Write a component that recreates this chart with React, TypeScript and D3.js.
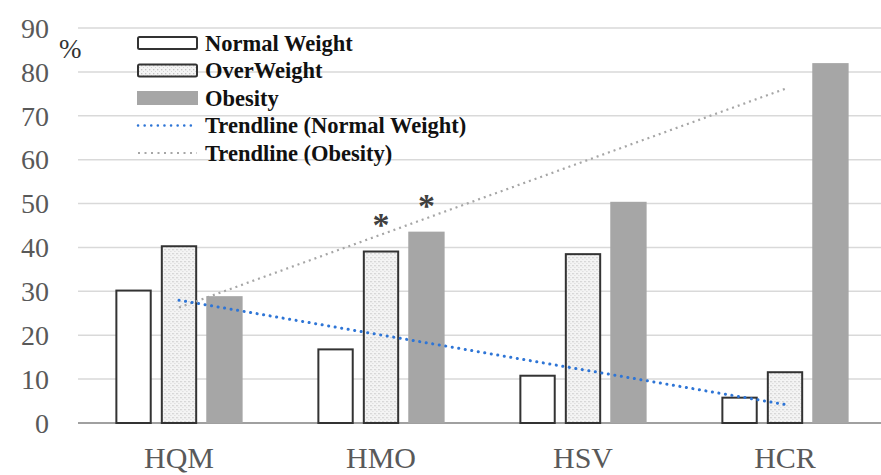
import React from 'react'
import * as d3 from 'd3'

// categories and series (%)
const categories = ['HQM', 'HMO', 'HSV', 'HCR']
const normalWeight = [30.4, 17, 11, 6]
const overWeight = [40.5, 39.3, 38.7, 11.8]
const obesity = [28.9, 43.6, 50.4, 82]
const yTickValues = [0, 10, 20, 30, 40, 50, 60, 70, 80, 90]
// significance marks: [category, series]
const starMarks = [['HMO', 'overWeight'], ['HMO', 'obesity']]

const seriesKeys = ['normalWeight', 'overWeight', 'obesity']
const seriesValues: Record<string, number[]> = { normalWeight, overWeight, obesity }

const W = 881, H = 475
const serif = '"Liberation Serif", "DejaVu Serif", serif'

// least squares line over the category index
const trend = (vals: number[]) => {
    const xs = vals.map((_, i) => i)
    const mx = d3.mean(xs) ?? 0
    const my = d3.mean(vals) ?? 0
    const num = d3.sum(xs, (x, i) => (x - mx) * (vals[i] - my))
    const den = d3.sum(xs, x => (x - mx) * (x - mx))
    const slope = num / den
    return (x: number) => my + slope * (x - mx)
}

const App = () => {
    const x = d3.scaleBand().domain(categories).range([78, 886]).paddingInner(0.37).paddingOuter(0.185)
    const xs = d3.scaleBand().domain(seriesKeys).range([0, x.bandwidth()]).paddingInner(0.2)
    const y = d3.scaleLinear().domain([0, 90]).range([423, 28])

    const center = (c: string) => (x(c) ?? 0) + x.bandwidth() / 2
    const line = d3.line<[number, number]>().x(d => d[0]).y(d => d[1])

    const trendPath = (vals: number[]) => {
        const f = trend(vals)
        const last = categories.length - 1
        return line([[center(categories[0]), y(f(0))], [center(categories[last]), y(f(last))]]) ?? ''
    }

    const barStyle = (k: string) => {
        if (k === 'normalWeight') return { fill: '#ffffff', stroke: '#333333', strokeWidth: 2 }
        if (k === 'overWeight') return { fill: 'url(#dots)', stroke: '#333333', strokeWidth: 2 }
        return { fill: '#a6a6a6', stroke: 'none', strokeWidth: 0 }
    }

    const legend = [
        { label: 'Normal Weight', kind: 'normalWeight' },
        { label: 'OverWeight', kind: 'overWeight' },
        { label: 'Obesity', kind: 'obesity' },
        { label: 'Trendline (Normal Weight)', kind: 'trendNormal' },
        { label: 'Trendline (Obesity)', kind: 'trendObesity' },
    ]

    return (
        <svg width={W} height={H} style={{ position: 'absolute', left: 0, top: 0, background: '#fff' }}>
            <defs>
                <pattern id="dots" width="4" height="4" patternUnits="userSpaceOnUse">
                    <rect width="4" height="4" fill="#f4f4f4" />
                    <rect x="1" y="1" width="1.3" height="1.3" fill="#c4c4c4" />
                    <rect x="3" y="3" width="1.3" height="1.3" fill="#d4d4d4" />
                </pattern>
            </defs>

            {/* grid */}
            {yTickValues.map(t => (
                <g key={t}>
                    <line x1={78} x2={W} y1={y(t)} y2={y(t)}
                        stroke={t === 0 ? '#a0a0a0' : '#d9d9d9'} strokeWidth={t === 0 ? 2 : 1.5} />
                    <text x={49} y={y(t)} dy="0.35em" textAnchor="end" fontFamily={serif}
                        fontSize={28} fill="#595959">{t}</text>
                </g>
            ))}
            <text x={59} y={58} fontFamily={serif} fontSize={27} fill="#333">%</text>

            {/* bars */}
            {categories.map((c, ci) => (
                <g key={c} transform={`translate(${x(c)},0)`}>
                    {seriesKeys.map(k => {
                        const v = seriesValues[k][ci]
                        const s = barStyle(k)
                        const inset = s.strokeWidth / 2
                        return <rect key={k} x={(xs(k) ?? 0) + inset} y={y(v) + inset}
                            width={xs.bandwidth() - 2 * inset} height={y(0) - y(v) - inset}
                            fill={s.fill} stroke={s.stroke} strokeWidth={s.strokeWidth} />
                    })}
                </g>
            ))}

            {/* trendlines */}
            <path d={trendPath(obesity)} stroke="#a6a6a6" strokeWidth={2.2} strokeDasharray="2 4" fill="none" />
            <path d={trendPath(normalWeight)} stroke="#2e75d6" strokeWidth={3} strokeDasharray="0.1 6.5"
                strokeLinecap="round" fill="none" />

            {/* significance */}
            {starMarks.map(([c, k]) => {
                const ci = categories.indexOf(c)
                const v = seriesValues[k][ci]
                return <text key={c + k} x={(x(c) ?? 0) + (xs(k) ?? 0) + xs.bandwidth() / 2} y={y(v + 7.5)}
                    dy="0.55em" textAnchor="middle" fontFamily={serif} fontWeight="bold" fontSize={34}
                    fill="#404040">*</text>
            })}

            {/* category labels */}
            {categories.map(c => (
                <text key={c} x={center(c)} y={468} textAnchor="middle" fontFamily={serif}
                    fontSize={30} fill="#595959">{c}</text>
            ))}

            {/* legend */}
            {legend.map((l, i) => {
                const cy = 43 + i * 27.5
                let sym
                if (l.kind === 'normalWeight' || l.kind === 'overWeight') {
                    sym = <rect x={138} y={cy - 6} width={59} height={12} rx={1.5}
                        fill={l.kind === 'overWeight' ? 'url(#dots)' : '#fff'} stroke="#333" strokeWidth={2} />
                } else if (l.kind === 'obesity') {
                    sym = <rect x={137} y={cy - 7} width={61} height={14} fill="#a6a6a6" />
                } else if (l.kind === 'trendNormal') {
                    sym = <line x1={138} x2={197} y1={cy} y2={cy} stroke="#2e75d6" strokeWidth={2.5}
                        strokeDasharray="0.1 6.5" strokeLinecap="round" />
                } else {
                    sym = <line x1={138} x2={197} y1={cy} y2={cy} stroke="#a6a6a6" strokeWidth={2}
                        strokeDasharray="2 4.5" />
                }
                return (
                    <g key={l.label}>
                        {sym}
                        <text x={205} y={cy} dy="0.35em" fontFamily={serif} fontWeight="bold"
                            fontSize={22.5} fill="#111">{l.label}</text>
                    </g>
                )
            })}
        </svg>
    )
}

export default App
